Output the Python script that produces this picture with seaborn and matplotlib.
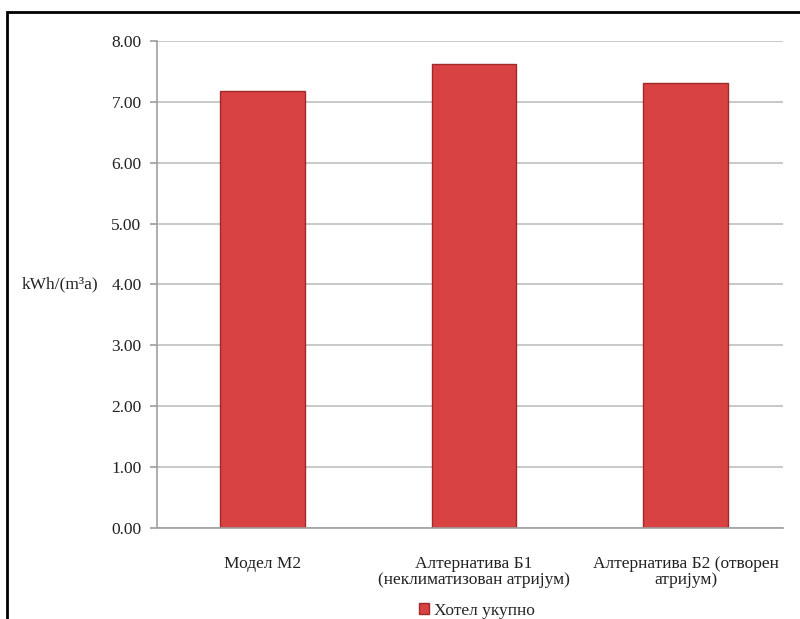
import numpy as np
import pandas as pd
import matplotlib
matplotlib.use("Agg")
import matplotlib.pyplot as plt
from matplotlib.patches import Rectangle
import seaborn as sns

categories = ["Модел М2",
              "Алтернатива Б1\n(неклиматизован атријум)",
              "Алтернатива Б2 (отворен\nатријум)"]
values = [7.18, 7.62, 7.31]
series_name = "Хотел укупно"
yticks = [0, 1, 2, 3, 4, 5, 6, 7, 8]

sns.set_theme(style="white")
plt.rcParams['font.family'] = ['Liberation Serif', 'DejaVu Serif']

data = pd.DataFrame({'category': categories, 'value': values, 'series': series_name})

fig = plt.figure(figsize=(8, 6.19), dpi=100)
ax = fig.add_axes([0.196, 0.147, 0.7825, 0.787])

sns.barplot(data=data, x='category', y='value', hue='series', palette=['#d84242'],
            saturation=1, width=0.40, edgecolor='#a02a2a', linewidth=1, ax=ax, legend=True)

ax.set_xlim(-0.5, 2.46)
ax.set_ylim(0, 8)
ax.set_yticks(yticks)
ax.set_yticklabels([f"{v:.2f}" for v in yticks], fontsize=12.5, color='#222222')
ax.tick_params(axis='y', length=5, color='#a0a0a0', left=True, pad=6)
ax.tick_params(axis='x', length=0, pad=20)
ax.set_xticks(range(len(categories)))
ax.set_xticklabels(categories, fontsize=12.5, color='#222222', linespacing=1.0)
ax.yaxis.grid(True, color='#bfbfbf', linewidth=1.2)
ax.set_axisbelow(True)
for s in ['top', 'right']:
    ax.spines[s].set_visible(False)
for s in ['left', 'bottom']:
    ax.spines[s].set_color('#a0a0a0')
    ax.spines[s].set_linewidth(1.2)

ax.set_xlabel('')
ax.set_ylabel('kWh/(m³a)', rotation=0, fontsize=12.5, color='#222222', labelpad=9,
              va='center', ha='right')

ax.legend(loc='center', bbox_to_anchor=(0.596, 0.013), bbox_transform=fig.transFigure,
          frameon=False, fontsize=12.5, handlelength=0.6, handleheight=0.6, handletextpad=0.3)

# outer frame of the chart area (cut at right and bottom)
fig.patches.append(Rectangle((0.009, -0.1), 1.2, 1.080, transform=fig.transFigure,
                             fill=False, edgecolor='black', linewidth=2))

fig.savefig('out.png', dpi=100)
